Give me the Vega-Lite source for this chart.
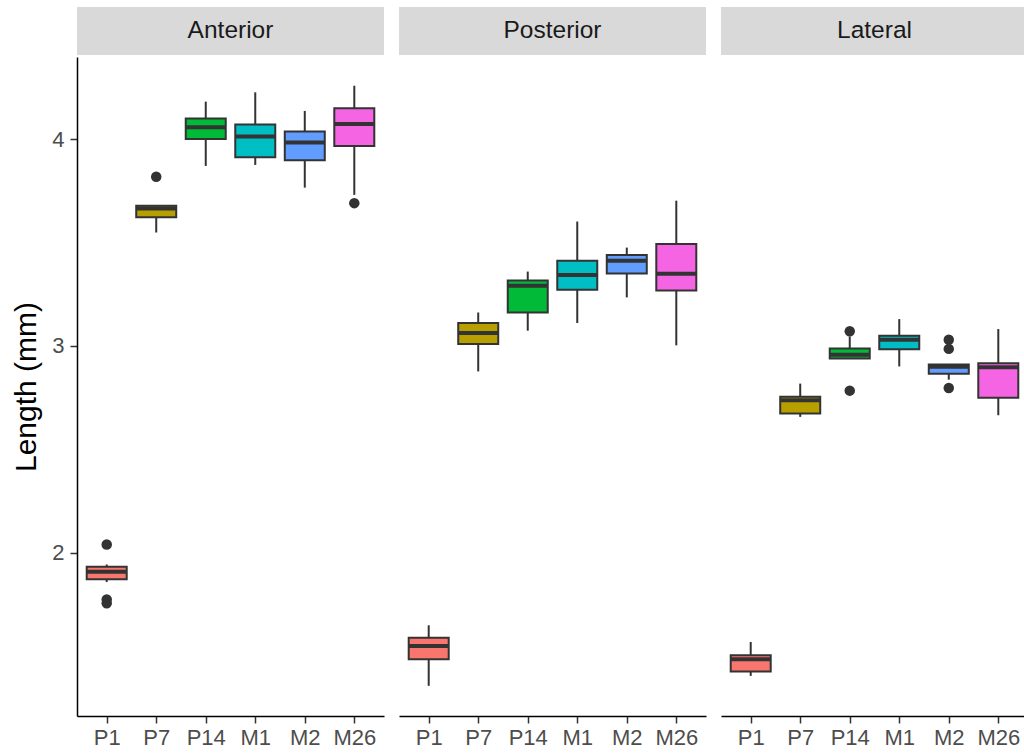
{
  "$schema": "https://vega.github.io/schema/vega-lite/v6.json",
  "background": "white",
  "padding": {"left": 11, "top": 7, "right": 0, "bottom": 0},
  "datasets": {
    "strips": [
      {"panel": "Anterior"}, {"panel": "Posterior"}, {"panel": "Lateral"}
    ],
    "boxes": [
      {"panel": "Anterior", "stage": "P1", "lower": 1.858, "q1": 1.871, "median": 1.908, "q3": 1.932, "upper": 1.943},
      {"panel": "Anterior", "stage": "P7", "lower": 3.549, "q1": 3.623, "median": 3.665, "q3": 3.678, "upper": 3.678},
      {"panel": "Anterior", "stage": "P14", "lower": 3.871, "q1": 4.001, "median": 4.058, "q3": 4.101, "upper": 4.182},
      {"panel": "Anterior", "stage": "M1", "lower": 3.876, "q1": 3.913, "median": 4.013, "q3": 4.072, "upper": 4.227},
      {"panel": "Anterior", "stage": "M2", "lower": 3.766, "q1": 3.899, "median": 3.984, "q3": 4.037, "upper": 4.137},
      {"panel": "Anterior", "stage": "M26", "lower": 3.731, "q1": 3.968, "median": 4.074, "q3": 4.150, "upper": 4.259},
      {"panel": "Posterior", "stage": "P1", "lower": 1.356, "q1": 1.485, "median": 1.549, "q3": 1.589, "upper": 1.649},
      {"panel": "Posterior", "stage": "P7", "lower": 2.877, "q1": 3.010, "median": 3.063, "q3": 3.111, "upper": 3.162},
      {"panel": "Posterior", "stage": "P14", "lower": 3.074, "q1": 3.162, "median": 3.291, "q3": 3.317, "upper": 3.360},
      {"panel": "Posterior", "stage": "M1", "lower": 3.111, "q1": 3.272, "median": 3.344, "q3": 3.412, "upper": 3.602},
      {"panel": "Posterior", "stage": "M2", "lower": 3.235, "q1": 3.351, "median": 3.412, "q3": 3.440, "upper": 3.476},
      {"panel": "Posterior", "stage": "M26", "lower": 3.003, "q1": 3.269, "median": 3.349, "q3": 3.493, "upper": 3.703},
      {"panel": "Lateral", "stage": "P1", "lower": 1.404, "q1": 1.425, "median": 1.485, "q3": 1.504, "upper": 1.568},
      {"panel": "Lateral", "stage": "P7", "lower": 2.657, "q1": 2.673, "median": 2.737, "q3": 2.755, "upper": 2.818},
      {"panel": "Lateral", "stage": "P14", "lower": 2.939, "q1": 2.939, "median": 2.958, "q3": 2.988, "upper": 3.046},
      {"panel": "Lateral", "stage": "M1", "lower": 2.901, "q1": 2.984, "median": 3.030, "q3": 3.050, "upper": 3.130},
      {"panel": "Lateral", "stage": "M2", "lower": 2.837, "q1": 2.866, "median": 2.900, "q3": 2.910, "upper": 2.910},
      {"panel": "Lateral", "stage": "M26", "lower": 2.665, "q1": 2.749, "median": 2.897, "q3": 2.916, "upper": 3.082}
    ],
    "outliers": [
      {"panel": "Anterior", "stage": "P1", "value": 2.040},
      {"panel": "Anterior", "stage": "P1", "value": 1.774},
      {"panel": "Anterior", "stage": "P1", "value": 1.755},
      {"panel": "Anterior", "stage": "P7", "value": 3.819},
      {"panel": "Anterior", "stage": "M26", "value": 3.691},
      {"panel": "Lateral", "stage": "P14", "value": 3.071},
      {"panel": "Lateral", "stage": "P14", "value": 2.784},
      {"panel": "Lateral", "stage": "M2", "value": 3.030},
      {"panel": "Lateral", "stage": "M2", "value": 2.986},
      {"panel": "Lateral", "stage": "M2", "value": 2.797}
    ]
  },
  "spacing": 15,
  "hconcat": [
    {
      "vconcat": [
        {
          "data": {"name": "strips"},
          "transform": [{"filter": "datum.panel === 'Anterior'"}],
          "width": 307, "height": 48,
          "encoding": {
            "x": {"field": "panel", "type": "nominal", "scale": {"paddingInner": 0, "paddingOuter": 0}, "axis": null},
            "y": {"field": "panel", "type": "nominal", "scale": {"paddingInner": 0, "paddingOuter": 0}, "axis": null}
          },
          "layer": [
            {"mark": {"type": "rect", "fill": "#D9D9D9"}},
            {"mark": {"type": "text", "fontSize": 24.5, "color": "#1A1A1A"}, "encoding": {"text": {"field": "panel"}}}
          ]
        },
        {
          "width": 307, "height": 659,
          "layer": [
            {
              "data": {"name": "boxes"},
              "transform": [{"filter": "datum.panel === 'Anterior'"}],
              "mark": {"type": "rule", "color": "#333333", "strokeWidth": 2},
              "encoding": {
                "x": {"field": "stage", "type": "nominal", "sort": ["P1", "P7", "P14", "M1", "M2", "M26"], "scale": {"type": "point", "padding": 0.6, "domain": ["P1", "P7", "P14", "M1", "M2", "M26"]}, "axis": {"title": null, "labelAngle": 0}},
                "y": {"field": "lower", "type": "quantitative", "scale": {"domain": [1.21, 4.398], "nice": false, "zero": false}, "axis": {"title": "Length (mm)", "values": [2, 3, 4], "format": "d", "titlePadding": 10, "labelPadding": 6}},
                "y2": {"field": "upper"}
              }
            },
            {
              "data": {"name": "boxes"},
              "transform": [{"filter": "datum.panel === 'Anterior'"}],
              "mark": {"type": "bar", "size": 40, "stroke": "#333333", "strokeWidth": 2},
              "encoding": {
                "x": {"field": "stage", "type": "nominal"},
                "y": {"field": "q1", "type": "quantitative"},
                "y2": {"field": "q3"},
                "fill": {"field": "stage", "type": "nominal", "scale": {"domain": ["P1", "P7", "P14", "M1", "M2", "M26"], "range": ["#F8766D", "#B79F00", "#00BA38", "#00BFC4", "#619CFF", "#F564E3"]}, "legend": null}
              }
            },
            {
              "data": {"name": "boxes"},
              "transform": [{"filter": "datum.panel === 'Anterior'"}],
              "mark": {"type": "tick", "size": 40, "thickness": 4, "color": "#333333", "opacity": 1},
              "encoding": {
                "x": {"field": "stage", "type": "nominal"},
                "y": {"field": "median", "type": "quantitative"}
              }
            },
            {
              "data": {"name": "outliers"},
              "transform": [{"filter": "datum.panel === 'Anterior'"}],
              "mark": {"type": "point", "filled": true, "size": 110, "color": "#333333", "opacity": 1},
              "encoding": {
                "x": {"field": "stage", "type": "nominal"},
                "y": {"field": "value", "type": "quantitative"}
              }
            }
          ]
        }
      ],
      "spacing": 2,
      "bounds": "flush"
    },
    {
      "vconcat": [
        {
          "data": {"name": "strips"},
          "transform": [{"filter": "datum.panel === 'Posterior'"}],
          "width": 307, "height": 48,
          "encoding": {
            "x": {"field": "panel", "type": "nominal", "scale": {"paddingInner": 0, "paddingOuter": 0}, "axis": null},
            "y": {"field": "panel", "type": "nominal", "scale": {"paddingInner": 0, "paddingOuter": 0}, "axis": null}
          },
          "layer": [
            {"mark": {"type": "rect", "fill": "#D9D9D9"}},
            {"mark": {"type": "text", "fontSize": 24.5, "color": "#1A1A1A"}, "encoding": {"text": {"field": "panel"}}}
          ]
        },
        {
          "width": 307, "height": 659,
          "layer": [
            {
              "data": {"name": "boxes"},
              "transform": [{"filter": "datum.panel === 'Posterior'"}],
              "mark": {"type": "rule", "color": "#333333", "strokeWidth": 2},
              "encoding": {
                "x": {"field": "stage", "type": "nominal", "sort": ["P1", "P7", "P14", "M1", "M2", "M26"], "scale": {"type": "point", "padding": 0.6, "domain": ["P1", "P7", "P14", "M1", "M2", "M26"]}, "axis": {"title": null, "labelAngle": 0}},
                "y": {"field": "lower", "type": "quantitative", "scale": {"domain": [1.21, 4.398], "nice": false, "zero": false}, "axis": null},
                "y2": {"field": "upper"}
              }
            },
            {
              "data": {"name": "boxes"},
              "transform": [{"filter": "datum.panel === 'Posterior'"}],
              "mark": {"type": "bar", "size": 40, "stroke": "#333333", "strokeWidth": 2},
              "encoding": {
                "x": {"field": "stage", "type": "nominal"},
                "y": {"field": "q1", "type": "quantitative"},
                "y2": {"field": "q3"},
                "fill": {"field": "stage", "type": "nominal", "scale": {"domain": ["P1", "P7", "P14", "M1", "M2", "M26"], "range": ["#F8766D", "#B79F00", "#00BA38", "#00BFC4", "#619CFF", "#F564E3"]}, "legend": null}
              }
            },
            {
              "data": {"name": "boxes"},
              "transform": [{"filter": "datum.panel === 'Posterior'"}],
              "mark": {"type": "tick", "size": 40, "thickness": 4, "color": "#333333", "opacity": 1},
              "encoding": {
                "x": {"field": "stage", "type": "nominal"},
                "y": {"field": "median", "type": "quantitative"}
              }
            }
          ]
        }
      ],
      "spacing": 2,
      "bounds": "flush"
    },
    {
      "vconcat": [
        {
          "data": {"name": "strips"},
          "transform": [{"filter": "datum.panel === 'Lateral'"}],
          "width": 307, "height": 48,
          "encoding": {
            "x": {"field": "panel", "type": "nominal", "scale": {"paddingInner": 0, "paddingOuter": 0}, "axis": null},
            "y": {"field": "panel", "type": "nominal", "scale": {"paddingInner": 0, "paddingOuter": 0}, "axis": null}
          },
          "layer": [
            {"mark": {"type": "rect", "fill": "#D9D9D9"}},
            {"mark": {"type": "text", "fontSize": 24.5, "color": "#1A1A1A"}, "encoding": {"text": {"field": "panel"}}}
          ]
        },
        {
          "width": 307, "height": 659,
          "layer": [
            {
              "data": {"name": "boxes"},
              "transform": [{"filter": "datum.panel === 'Lateral'"}],
              "mark": {"type": "rule", "color": "#333333", "strokeWidth": 2},
              "encoding": {
                "x": {"field": "stage", "type": "nominal", "sort": ["P1", "P7", "P14", "M1", "M2", "M26"], "scale": {"type": "point", "padding": 0.6, "domain": ["P1", "P7", "P14", "M1", "M2", "M26"]}, "axis": {"title": null, "labelAngle": 0}},
                "y": {"field": "lower", "type": "quantitative", "scale": {"domain": [1.21, 4.398], "nice": false, "zero": false}, "axis": null},
                "y2": {"field": "upper"}
              }
            },
            {
              "data": {"name": "boxes"},
              "transform": [{"filter": "datum.panel === 'Lateral'"}],
              "mark": {"type": "bar", "size": 40, "stroke": "#333333", "strokeWidth": 2},
              "encoding": {
                "x": {"field": "stage", "type": "nominal"},
                "y": {"field": "q1", "type": "quantitative"},
                "y2": {"field": "q3"},
                "fill": {"field": "stage", "type": "nominal", "scale": {"domain": ["P1", "P7", "P14", "M1", "M2", "M26"], "range": ["#F8766D", "#B79F00", "#00BA38", "#00BFC4", "#619CFF", "#F564E3"]}, "legend": null}
              }
            },
            {
              "data": {"name": "boxes"},
              "transform": [{"filter": "datum.panel === 'Lateral'"}],
              "mark": {"type": "tick", "size": 40, "thickness": 4, "color": "#333333", "opacity": 1},
              "encoding": {
                "x": {"field": "stage", "type": "nominal"},
                "y": {"field": "median", "type": "quantitative"}
              }
            },
            {
              "data": {"name": "outliers"},
              "transform": [{"filter": "datum.panel === 'Lateral'"}],
              "mark": {"type": "point", "filled": true, "size": 110, "color": "#333333", "opacity": 1},
              "encoding": {
                "x": {"field": "stage", "type": "nominal"},
                "y": {"field": "value", "type": "quantitative"}
              }
            }
          ]
        }
      ],
      "spacing": 2,
      "bounds": "flush"
    }
  ],
  "config": {
    "view": {"stroke": null},
    "font": "Liberation Sans",
    "axis": {
      "grid": false,
      "domainColor": "#000000",
      "domainWidth": 1.5,
      "tickColor": "#333333",
      "tickWidth": 1.5,
      "tickSize": 7,
      "labelColor": "#4D4D4D",
      "labelFontSize": 22,
      "labelPadding": 4,
      "titleFontSize": 30,
      "titleColor": "#000000",
      "titleFontWeight": "normal"
    }
  }
}
